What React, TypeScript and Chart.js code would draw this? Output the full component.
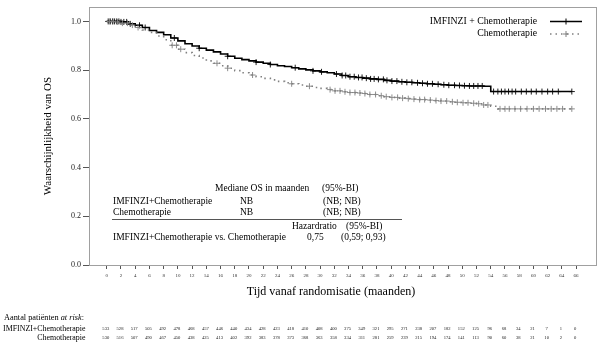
import React, { useEffect, useRef } from "react";
import { Chart, registerables } from "chart.js";

Chart.register(...registerables);

// ---- data ----
const months = [0,1,2,3,4,5,6,7,8,9,10,11,12,13,14,15,16,17,18,19,20,21,22,23,24,25,26,27,28,29,30,31,32,33,34,35,36,37,38,39,40,41,42,43,44,45,46,47,48,49,50,51,52,53,54,55,56,57,58,59,60,61,62,63,64,65.4];
const imfSurv = [1.0,1.0,0.998,0.99,0.984,0.975,0.963,0.955,0.945,0.932,0.92,0.908,0.899,0.89,0.882,0.875,0.866,0.857,0.849,0.843,0.838,0.833,0.828,0.823,0.818,0.815,0.81,0.805,0.801,0.797,0.793,0.789,0.784,0.778,0.773,0.77,0.767,0.764,0.762,0.758,0.755,0.752,0.75,0.748,0.746,0.744,0.742,0.74,0.738,0.737,0.736,0.735,0.735,0.734,0.712,0.712,0.712,0.712,0.712,0.712,0.712,0.712,0.712,0.712,0.712,0.712];
const chemoSurv = [1.0,0.998,0.993,0.985,0.975,0.965,0.955,0.94,0.925,0.902,0.886,0.872,0.86,0.85,0.838,0.828,0.818,0.808,0.798,0.789,0.78,0.773,0.766,0.76,0.754,0.748,0.744,0.739,0.734,0.729,0.725,0.72,0.715,0.711,0.708,0.706,0.704,0.7,0.695,0.691,0.688,0.685,0.683,0.681,0.679,0.677,0.675,0.673,0.67,0.668,0.666,0.664,0.662,0.657,0.652,0.641,0.641,0.641,0.641,0.641,0.641,0.641,0.641,0.641,0.641,0.641];
const imfCensor = [0.2,0.5,0.8,1.1,1.4,1.7,2.0,2.4,2.8,3.3,4.6,5.4,9.5,13,17,21,23,26.5,29,30.2,32.3,33.1,33.6,34.2,34.8,35.4,35.9,36.5,37.1,37.6,38.2,38.9,39.4,40.1,40.8,41.5,42.2,42.9,43.7,44.4,45.1,45.8,46.6,47.4,48.1,48.9,49.6,50.3,51,51.6,52.2,52.8,54.4,55,55.5,56,56.5,57,57.5,58.3,59,59.7,60.4,61.2,62,62.7,63.5,65.4];
const chemoCensor = [0.4,0.9,1.5,2.2,2.9,3.6,4.4,9.2,9.8,10.4,15.5,17,20.5,26,28.5,31.4,32.1,32.8,33.5,34.2,34.9,35.6,36.3,37,37.8,38.6,39.3,40.1,40.9,41.6,42.4,43.2,44,44.7,45.5,46.3,47,47.8,48.6,49.3,50.1,50.8,51.6,52.3,53,53.6,55.3,56,56.6,57.4,58.2,59.1,60,60.8,61.7,62.5,63.3,64.1,65.4];
const xTicks = [0,2,4,6,8,10,12,14,16,18,20,22,24,26,28,30,32,34,36,38,40,42,44,46,48,50,52,54,56,58,60,62,64,66];
const yTicks = [0,0.2,0.4,0.6,0.8,1.0];
const riskImf = [533,528,517,505,492,478,468,457,446,440,434,428,423,418,410,408,400,375,349,321,295,271,238,207,182,152,125,96,68,34,21,7,1,0];
const riskChemo = [530,516,507,490,467,450,438,425,413,402,392,383,378,373,368,363,358,334,311,281,259,239,215,194,174,141,113,90,60,38,21,10,2,0];

const seriesImf = "IMFINZI + Chemotherapie";
const seriesChemo = "Chemotherapie";

const FONT = "'Liberation Serif', 'Times New Roman', serif";
const IMF_COLOR = "#000000";
const CHEMO_COLOR = "#808080";

function survAt(surv: number[], t: number): number {
  let v = surv[0];
  for (let i = 0; i < months.length; i++) {
    if (months[i] <= t) v = surv[i];
    else break;
  }
  return v;
}

const overlayPlugin = {
  id: "overlay",
  beforeDatasetsDraw(chart: any) {
    const { ctx, chartArea } = chart;
    ctx.save();
    ctx.strokeStyle = "#a0a0a0";
    ctx.lineWidth = 1;
    ctx.strokeRect(
      Math.round(chartArea.left) + 0.5,
      Math.round(chartArea.top) + 0.5,
      Math.round(chartArea.right - chartArea.left),
      Math.round(chartArea.bottom - chartArea.top)
    );
    ctx.restore();
  },
  afterDraw(chart: any) {
    const { ctx, scales } = chart;
    const xs = scales.x;
    ctx.save();
    ctx.fillStyle = "#000";
    ctx.textBaseline = "middle";

    // y title
    ctx.save();
    ctx.translate(48, 136);
    ctx.rotate(-Math.PI / 2);
    ctx.textAlign = "center";
    ctx.font = `11px ${FONT}`;
    ctx.fillText("Waarschijnlijkheid van OS", 0, 0);
    ctx.restore();

    // x title
    ctx.textAlign = "center";
    ctx.font = `12px ${FONT}`;
    ctx.fillText("Tijd vanaf randomisatie (maanden)", 331, 292);

    // legend
    ctx.font = `9.8px ${FONT}`;
    ctx.textAlign = "right";
    ctx.fillText(seriesImf, 537, 21);
    ctx.fillText(seriesChemo, 537, 33.5);
    ctx.strokeStyle = IMF_COLOR;
    ctx.lineWidth = 1.5;
    ctx.beginPath();
    ctx.moveTo(550, 21.5);
    ctx.lineTo(582, 21.5);
    ctx.stroke();
    ctx.lineWidth = 1;
    ctx.beginPath();
    ctx.moveTo(566, 18.5); ctx.lineTo(566, 24.5);
    ctx.stroke();
    ctx.strokeStyle = CHEMO_COLOR;
    ctx.lineWidth = 1.5;
    ctx.setLineDash([1.5, 4]);
    ctx.beginPath();
    ctx.moveTo(550, 34);
    ctx.lineTo(582, 34);
    ctx.stroke();
    ctx.setLineDash([]);
    ctx.lineWidth = 1;
    ctx.beginPath();
    ctx.moveTo(563, 34); ctx.lineTo(569, 34);
    ctx.moveTo(566, 31); ctx.lineTo(566, 37);
    ctx.stroke();

    // inner table
    ctx.fillStyle = "#000";
    ctx.textAlign = "left";
    ctx.font = `9.5px ${FONT}`;
    ctx.fillText("Mediane OS in maanden", 215, 188);
    ctx.fillText("(95%-BI)", 322, 188);
    ctx.fillText("IMFINZI+Chemotherapie", 113, 201);
    ctx.fillText("NB", 240, 201);
    ctx.fillText("(NB; NB)", 323, 201);
    ctx.fillText("Chemotherapie", 113, 212);
    ctx.fillText("NB", 240, 212);
    ctx.fillText("(NB; NB)", 323, 212);
    ctx.fillText("Hazardratio", 292, 226);
    ctx.fillText("(95%-BI)", 346, 226);
    ctx.fillText("IMFINZI+Chemotherapie vs. Chemotherapie", 113, 237);
    ctx.fillText("0,75", 307, 237);
    ctx.fillText("(0,59; 0,93)", 341, 237);
    ctx.strokeStyle = "#555";
    ctx.lineWidth = 1;
    ctx.beginPath();
    ctx.moveTo(112, 219.5);
    ctx.lineTo(402, 219.5);
    ctx.stroke();

    // risk table
    ctx.font = `8.3px ${FONT}`;
    ctx.textAlign = "left";
    ctx.fillText("Aantal patiënten ", 4, 318);
    const w1 = ctx.measureText("Aantal patiënten ").width;
    ctx.font = `italic 8.3px ${FONT}`;
    ctx.fillText("at risk", 4 + w1, 318);
    const w2 = ctx.measureText("at risk").width;
    ctx.font = `8.3px ${FONT}`;
    ctx.fillText(":", 4 + w1 + w2, 318);
    ctx.font = `7.9px ${FONT}`;
    ctx.textAlign = "right";
    ctx.fillText("IMFINZI+Chemotherapie", 85.5, 329);
    ctx.fillText("Chemotherapie", 85.5, 338);
    ctx.textAlign = "center";
    ctx.font = `4.6px ${FONT}`;
    ctx.fillStyle = "#222";
    xTicks.forEach((t, i) => {
      const px = xs.getPixelForValue(t);
      ctx.fillText(String(riskImf[i]), px - 1, 329);
      ctx.fillText(String(riskChemo[i]), px - 1, 338);
    });
    ctx.restore();
  },
};

export default function App() {
  const ref = useRef<HTMLCanvasElement | null>(null);

  useEffect(() => {
    if (!ref.current) return;
    const imfLine = months.map((m, i) => ({ x: m, y: imfSurv[i] }));
    const chemoLine = months.map((m, i) => ({ x: m, y: chemoSurv[i] }));
    const imfMarks = imfCensor.map((t) => ({ x: t, y: survAt(imfSurv, t) }));
    const chemoMarks = chemoCensor.map((t) => ({ x: t, y: survAt(chemoSurv, t) }));

    const chart = new Chart(ref.current, {
      type: "scatter",
      data: {
        datasets: [
          {
            label: seriesChemo,
            data: chemoLine,
            showLine: true,
            stepped: true,
            borderColor: CHEMO_COLOR,
            borderWidth: 1.6,
            borderDash: [1.5, 4],
            pointRadius: 0,
            fill: false,
          } as any,
          {
            label: seriesChemo + " censored",
            data: chemoMarks,
            showLine: false,
            pointStyle: "cross",
            pointRadius: 3,
            borderColor: CHEMO_COLOR,
            borderWidth: 0.9,
          },
          {
            label: seriesImf,
            data: imfLine,
            showLine: true,
            stepped: true,
            borderColor: IMF_COLOR,
            borderWidth: 1.6,
            pointRadius: 0,
            fill: false,
          } as any,
          {
            label: seriesImf + " censored",
            data: imfMarks,
            showLine: false,
            pointStyle: "cross",
            pointRadius: 3,
            borderColor: IMF_COLOR,
            borderWidth: 0.9,
          },
        ],
      },
      options: {
        responsive: false,
        animation: false,
        layout: { padding: { top: 6, right: 10, bottom: 0, left: 0 } },
        plugins: {
          legend: { display: false },
          tooltip: { enabled: false },
          title: { display: false },
        },
        scales: {
          x: {
            type: "linear",
            min: -2.5,
            max: 68.8,
            afterFit: (s: any) => { s.height = 86; },
            afterBuildTicks: (s: any) => { s.ticks = xTicks.map((v) => ({ value: v })); },
            grid: { display: true, drawOnChartArea: false, drawTicks: true, tickLength: 4, color: "#555" },
            border: { display: false },
            ticks: {
              autoSkip: false,
              maxRotation: 0,
              padding: 4,
              color: "#333",
              font: { family: FONT, size: 5 },
              callback: (v: any) => String(v),
            },
          },
          y: {
            type: "linear",
            min: 0,
            max: 1.06,
            afterFit: (s: any) => { s.width = 89; },
            afterBuildTicks: (s: any) => { s.ticks = yTicks.map((v) => ({ value: v })); },
            grid: { display: true, drawOnChartArea: false, drawTicks: true, tickLength: 6, color: "#555" },
            border: { display: false },
            ticks: {
              padding: 2,
              color: "#222",
              font: { family: FONT, size: 8 },
              callback: (v: any) => Number(v).toFixed(1),
            },
          },
        },
      },
      plugins: [overlayPlugin],
    });
    return () => chart.destroy();
  }, []);

  return (
    <div style={{ position: "fixed", left: 0, top: 0, width: 606, height: 351, background: "#fff" }}>
      <canvas ref={ref} width={606} height={351} style={{ width: 606, height: 351, display: "block" }} />
    </div>
  );
}
